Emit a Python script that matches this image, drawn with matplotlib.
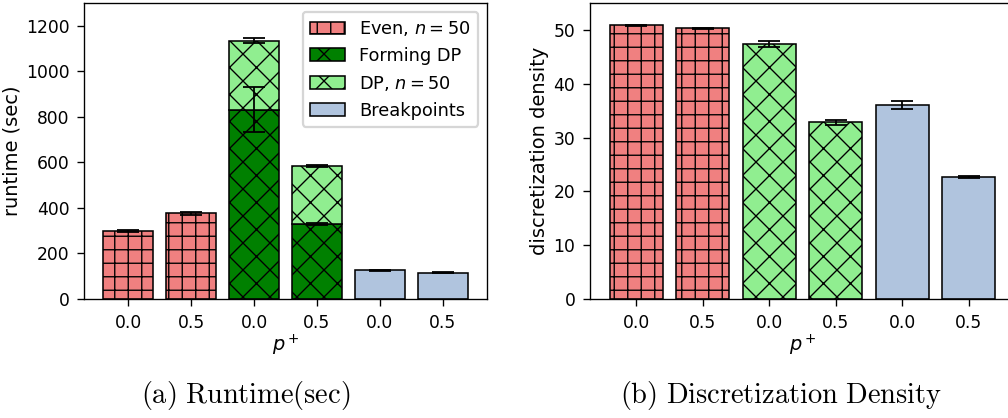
import matplotlib
matplotlib.use("Agg")
import matplotlib.pyplot as plt
import numpy as np

# ---- data ----
xticklabels = ["0.0", "0.5", "0.0", "0.5", "0.0", "0.5"]

# runtime (sec)
even_rt = [298, 376]
even_rt_err = [5, 5]
forming_rt = [831, 328]
forming_rt_err = [98, 5]
dp_rt = [303, 257]          # stacked on forming
dp_rt_err = [11, 5]
bp_rt = [127, 116]
bp_rt_err = [2, 1.5]

# discretization density
even_dd = [50.9, 50.3]
even_dd_err = [0.1, 0.1]
dp_dd = [47.45, 32.8]
dp_dd_err = [0.55, 0.55]
bp_dd = [36.0, 22.7]
bp_dd_err = [0.75, 0.15]

labels = ["Even, $n=50$", "Forming DP", "DP, $n=50$", "Breakpoints"]
c_even = "lightcoral"
c_form = "green"
c_dp = "lightgreen"
c_bp = "lightsteelblue"

DPI = 162
W, H = 1008, 418
plt.rcParams["hatch.linewidth"] = 0.6
plt.rcParams["font.size"] = 7.6
plt.rcParams["mathtext.fontset"] = "dejavusans"

fig = plt.figure(figsize=(W / DPI, H / DPI), dpi=DPI)

def px_axes(x0, x1, ytop, ybot):
    return fig.add_axes([x0 / W, 1 - ybot / H, (x1 - x0) / W, (ybot - ytop) / H])

ax1 = px_axes(84, 487, 3, 299)
ax2 = px_axes(590, 1015, 3, 299)

ekw = dict(capsize=5, ecolor="black", error_kw=dict(elinewidth=0.8, capthick=0.8))
lw = 0.7

x = np.arange(6)

# ---- left: runtime ----
ax1.bar(x[0:2], even_rt, 0.8, yerr=even_rt_err, color=c_even, hatch="++",
        edgecolor="black", linewidth=lw, label=labels[0], **ekw)
ax1.bar(x[2:4], forming_rt, 0.8, yerr=forming_rt_err, color=c_form, hatch="xx",
        edgecolor="black", linewidth=lw, label=labels[1], **ekw)
ax1.bar(x[2:4], dp_rt, 0.8, bottom=forming_rt, yerr=dp_rt_err, color=c_dp, hatch="xx",
        edgecolor="black", linewidth=lw, label=labels[2], **ekw)
ax1.bar(x[4:6], bp_rt, 0.8, yerr=bp_rt_err, color=c_bp,
        edgecolor="black", linewidth=lw, label=labels[3], **ekw)
ax1.set_ylim(0, 1300)
ax1.set_xlim(-0.7, 5.7)
ax1.set_xticks(x)
ax1.set_xticklabels(xticklabels)
ax1.set_ylabel("runtime (sec)", fontsize=8.6, labelpad=2)
ax1.set_xlabel("$p^+$", fontsize=8.6, labelpad=0.5)
ax1.legend(loc="upper right", fontsize=7.9)

# ---- right: discretization density ----
ax2.bar(x[0:2], even_dd, 0.8, yerr=even_dd_err, color=c_even, hatch="++",
        edgecolor="black", linewidth=lw, **ekw)
ax2.bar(x[2:4], dp_dd, 0.8, yerr=dp_dd_err, color=c_dp, hatch="xx",
        edgecolor="black", linewidth=lw, **ekw)
ax2.bar(x[4:6], bp_dd, 0.8, yerr=bp_dd_err, color=c_bp,
        edgecolor="black", linewidth=lw, **ekw)
ax2.set_ylim(0, 55)
ax2.set_xlim(-0.7, 5.7)
ax2.set_xticks(x)
ax2.set_xticklabels(xticklabels)
ax2.set_ylabel("discretization density", fontsize=8.6, labelpad=2)
ax2.set_xlabel("$p^+$", fontsize=8.6, labelpad=0.5)

for ax in (ax1, ax2):
    ax.tick_params(length=3, width=0.6)
    for s in ax.spines.values():
        s.set_linewidth(0.6)

# captions (Computer Modern via mathtext)
fig.text(246 / W, 1 - 395 / H, r"$\mathrm{(a)\ Runtime(sec)}$", ha="center", va="center",
         fontsize=12.6, math_fontfamily="cm")
fig.text(781 / W, 1 - 395 / H, r"$\mathrm{(b)\ Discretization\ Density}$", ha="center", va="center",
         fontsize=12.6, math_fontfamily="cm")

fig.savefig("out.png", dpi=DPI)
